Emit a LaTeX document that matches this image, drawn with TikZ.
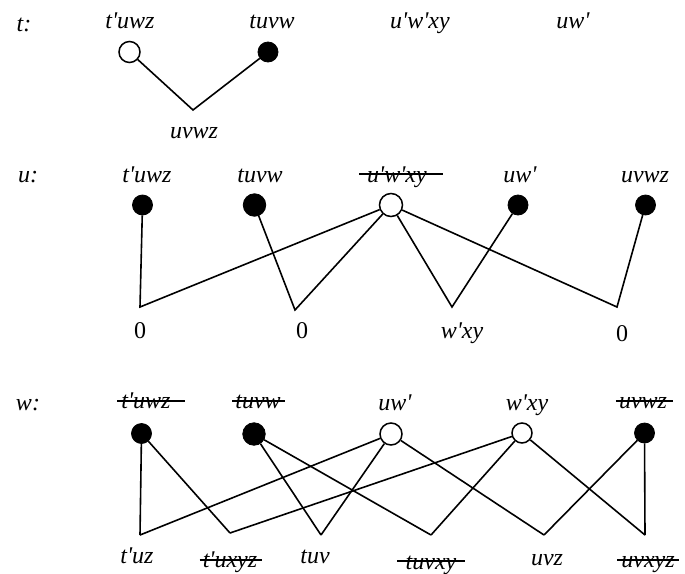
\documentclass[tikz,border=0pt]{standalone}
\usepackage{fontspec}
\setmainfont{Liberation Serif}[Ligatures=TeXOff]
\begin{document}
\begin{tikzpicture}[x=1pt,y=-1pt,
  lbl/.style={font=\fontsize{24}{28}\selectfont\itshape, anchor=base, inner sep=0pt},
  num/.style={font=\fontsize{24}{28}\selectfont, anchor=base, inner sep=0pt},
  fdot/.style={circle, fill=black, draw=black, line width=0.8pt, minimum size=20pt, inner sep=0pt},
  bigdot/.style={fdot, minimum size=22.5pt},
  odot/.style={circle, fill=white, draw=black, line width=1.5pt, minimum size=22pt, inner sep=0pt},
  smalldot/.style={odot, minimum size=20pt},
  edge/.style={line width=1.6pt},
  strk/.style={line width=2pt}]
\useasboundingbox (0,0) rectangle (685,573);

% ---------- t row ----------
\node[lbl] (tL) at (24,31) {t:};
\node[lbl] (t1) at (130,28) {t'uwz};
\node[lbl] (t2) at (272,28) {tuvw};
\node[lbl] (t3) at (420,28) {u'w'xy};
\node[lbl] (t4) at (573,28) {uw'};
\node[odot, minimum size=21pt] (tc1) at (129.5,52) {};
\node[fdot] (tc2) at (268,52) {};
\coordinate (tv) at (193,110);
\node[lbl] (tvl) at (194,138) {uvwz};
\draw[edge] (tc1) -- (tv) -- (tc2);

% ---------- u row ----------
\node[lbl] (uL) at (28,182) {u:};
\node[lbl] (u1) at (147,182) {t'uwz};
\node[lbl] (u2) at (260,182) {tuvw};
\node[lbl] (u3) at (397,182) {u'w'xy};
\node[lbl] (u4) at (520,182) {uw'};
\node[lbl] (u5) at (645,182) {uvwz};
\draw[strk] ([shift={(-8,-8)}]u3.base west) -- ([shift={(16,-8)}]u3.base east);

\node[fdot] (uc1) at (142.5,205) {};
\node[bigdot] (uc2) at (254.5,205) {};
\node[odot, minimum size=23pt] (uc3) at (391,205) {};
\node[fdot] (uc4) at (518,205) {};
\node[fdot] (uc5) at (645.5,205) {};

\coordinate (uv1) at (140,307);
\coordinate (uv2) at (295,310);
\coordinate (uv3) at (452,307);
\coordinate (uv4) at (617,307);
\node[num] (ul1) at (140,338) {0};
\node[num] (ul2) at (302,338) {0};
\node[lbl] (ul3) at (462,338) {w'xy};
\node[num] (ul4) at (622,341) {0};

\draw[edge] (uc1) -- (uv1) -- (uc3);
\draw[edge] (uc2) -- (uv2) -- (uc3);
\draw[edge] (uc3) -- (uv3) -- (uc4);
\draw[edge] (uc3) -- (uv4) -- (uc5);

% ---------- w row ----------
\node[lbl] (wL) at (28,410) {w:};
\node[lbl] (w1) at (146,408) {t'uwz};
\node[lbl] (w2) at (258,408) {tuvw};
\node[lbl] (w3) at (395,410) {uw'};
\node[lbl] (w4) at (527,410) {w'xy};
\node[lbl] (w5) at (643,408) {uvwz};
\draw[strk] ([shift={(-4,-7)}]w1.base west) -- ([shift={(14,-7)}]w1.base east);
\draw[strk] ([shift={(-3,-7)}]w2.base west) -- ([shift={(4,-7)}]w2.base east);
\draw[strk] ([shift={(-3,-7)}]w5.base west) -- ([shift={(6,-7)}]w5.base east);

\node[fdot] (wc1) at (141.5,433.5) {};
\node[bigdot] (wc2) at (254,434) {};
\node[odot] (wc3) at (391,434) {};
\node[smalldot] (wc4) at (522,433) {};
\node[fdot] (wc5) at (644.5,433) {};

\coordinate (wv1) at (140,535);
\coordinate (wv2) at (230,533);
\coordinate (wv3) at (321,535);
\coordinate (wv4) at (431,535);
\coordinate (wv5) at (544,535);
\coordinate (wv6) at (645,535);

\node[lbl] (wl1) at (137,563) {t'uz};
\node[lbl] (wl2) at (230,567) {t'uxyz};
\node[lbl] (wl3) at (315,563) {tuv};
\node[lbl] (wl4) at (431,569) {tuvxy};
\node[lbl] (wl5) at (547,565) {uvz};
\node[lbl] (wl6) at (648,567) {uvxyz};
\draw[strk] ([shift={(-3,-7)}]wl2.base west) -- ([shift={(5,-7)}]wl2.base east);
\draw[strk] ([shift={(-8,-8)}]wl4.base west) -- ([shift={(8,-8)}]wl4.base east);
\draw[strk] ([shift={(-4,-7)}]wl6.base west) -- ([shift={(4,-7)}]wl6.base east);

\draw[edge] (wc1) -- (wv1);
\draw[edge] (wc1) -- (wv2);
\draw[edge] (wc2) -- (wv3);
\draw[edge] (wc2) -- (wv4);
\draw[edge] (wc3) -- (wv1);
\draw[edge] (wc3) -- (wv3);
\draw[edge] (wc3) -- (wv5);
\draw[edge] (wc4) -- (wv2);
\draw[edge] (wc4) -- (wv4);
\draw[edge] (wc4) -- (wv6);
\draw[edge] (wc5) -- (wv5);
\draw[edge] (wc5) -- (wv6);
\end{tikzpicture}
\end{document}
